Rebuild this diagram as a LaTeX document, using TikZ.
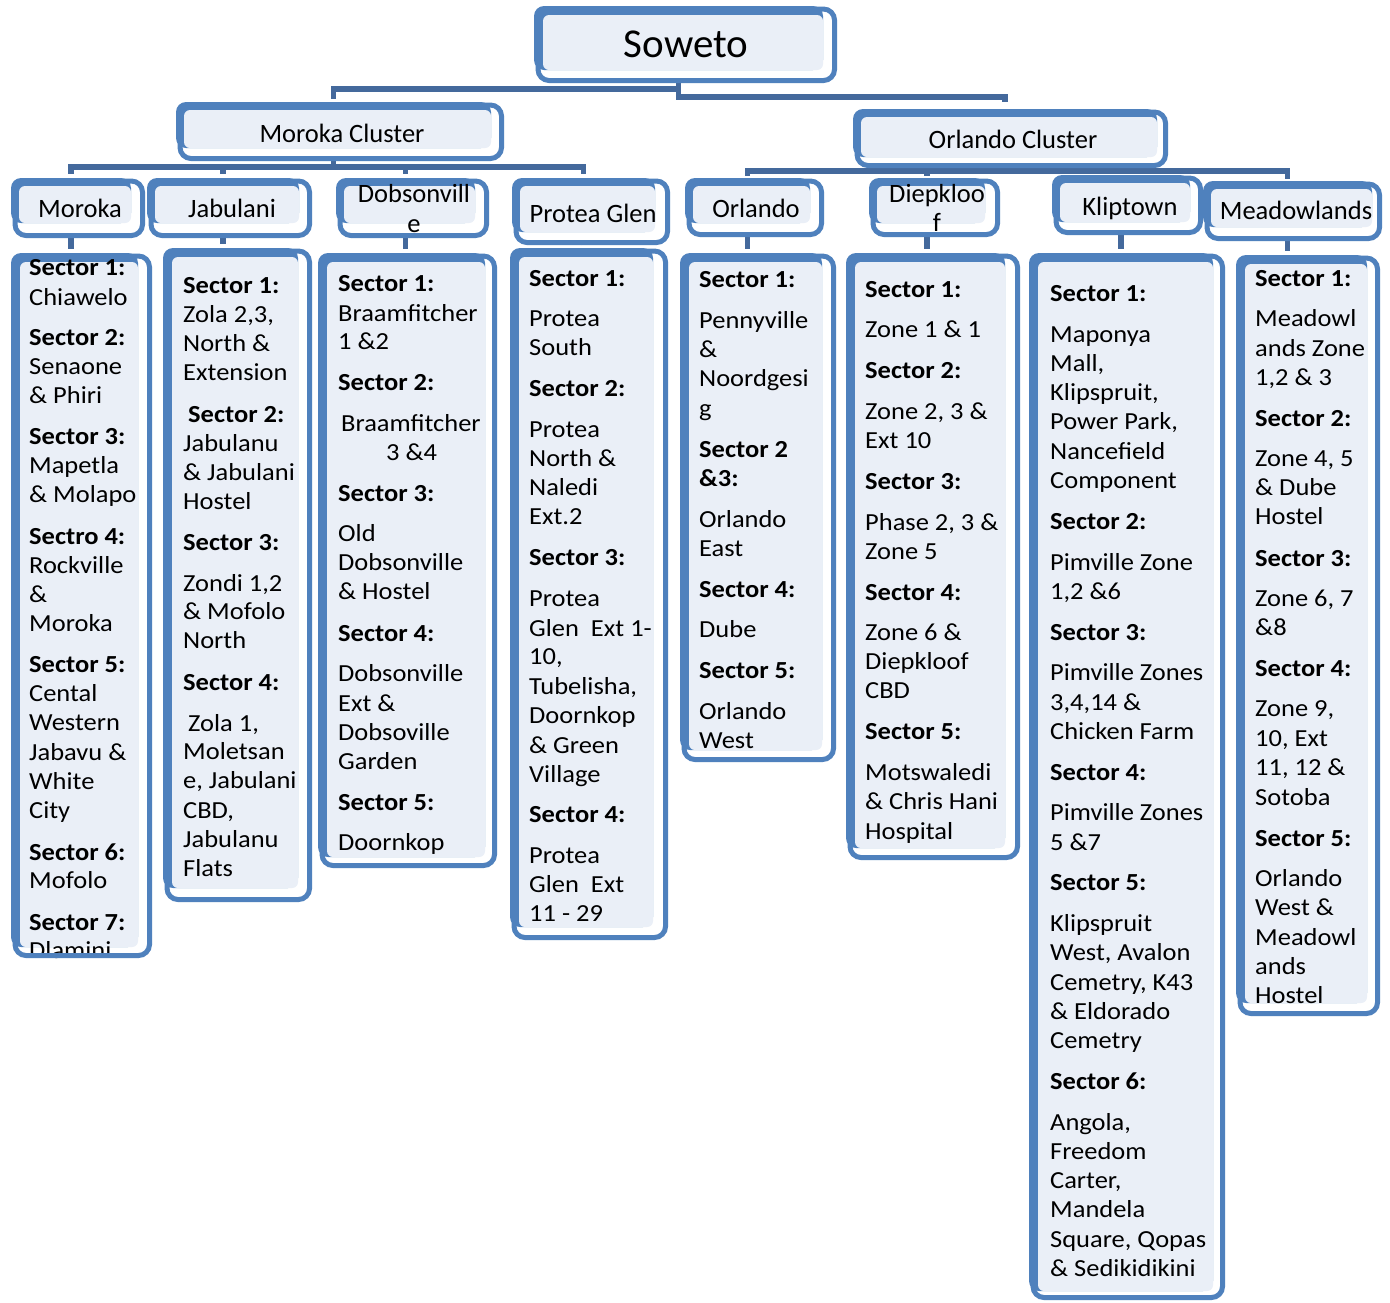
\documentclass[tikz,border=0pt]{standalone}
\usepackage{fontspec}
\setmainfont{Carlito}
\newfontfamily\secfont{Carlito}[FakeStretch=1.08]
\usetikzlibrary{calc,fit,backgrounds}
\definecolor{bframe}{HTML}{4F81BD}
\definecolor{lite}{HTML}{EAEFF7}
\definecolor{connc}{HTML}{44699C}
% #1 name, #2 L, #3 T, #4 fill right, #5 fill bottom, #6 R, #7 B, #8 thickness, #9 contents
\newcommand\ebox[9]{%
  \fill[white,rounded corners=11pt] (#2+4,#3+3) rectangle (#6-2.5,#7-2.5);
  \fill[bframe,rounded corners=10pt] (#2,#3) rectangle (#4,#5);
  \fill[lite,rounded corners=6pt] (#2+#8,#3+#8) rectangle (#4,#5);
  \node[inner sep=0pt,fit={(#2,#3) (#4,#7)}] (#1) {};
  #9
  \draw[bframe,line width=5pt,rounded corners=11pt] (#2+4,#3+3) rectangle (#6-2.5,#7-2.5);
}
\newcommand\tlines[3]{%
  \foreach \ly/\ltext [count=\lidx] in {#3}{\node[stxt] (#1-\lidx) at (#2,\ly) {\ltext};}%
}
\newcommand\hd[1]{\textbf{#1}}
\begin{document}
\begin{tikzpicture}[x=1pt,y=-1pt,
  stxt/.style={anchor=base west,inner sep=0pt,font=\secfont\fontsize{24.5}{29}\selectfont},
  ltxt/.style={anchor=base,inner sep=0pt,font=\fontsize{26.5}{30}\selectfont},
  conn/.style={draw=connc,line width=5.5pt}]
\useasboundingbox (0,0) rectangle (1390,1302);

% ---------- top level ----------
\ebox{sow}{534}{6}{823}{70}{837}{83}{9}{\node[anchor=base,inner sep=0pt,font=\fontsize{41}{46}\selectfont] (sow-t) at (686,57) {Soweto};}
\ebox{mcl}{176}{102}{491}{148}{504}{161}{8}{\node[ltxt] (mcl-t) at (342,142) {Moroka Cluster};}
\ebox{ocl}{853}{109}{1157}{157}{1168}{168}{8}{\node[ltxt] (ocl-t) at (1013,148) {Orlando Cluster};}

% ---------- area labels ----------
\ebox{mor}{11}{178}{131}{223}{145}{238}{8}{\node[ltxt] (mor-t) at (80,217) {Moroka};}
\ebox{jab}{147}{178}{299}{223}{312}{238}{8}{\node[ltxt] (jab-t) at (232,217) {Jabulani};}
\ebox{dob}{336}{178}{475}{223}{489}{238}{8}{\node[ltxt] (dob-t) at (414,202) {Dobsonvill};
  \node[ltxt] (dob-t2) at (414,232) {e};}
\ebox{pro}{512}{178}{655}{232}{670}{245}{8}{\node[ltxt] (pro-t) at (593,222) {Protea Glen};}
\ebox{orl}{685}{178}{810}{223}{824}{237}{8}{\node[ltxt] (orl-t) at (756,217) {Orlando};}
\ebox{diep}{869}{178}{985}{223}{1000}{237}{8}{\node[ltxt] (diep-t) at (937,202) {Diepkloo};
  \node[ltxt] (diep-t2) at (937,231) {f};}
\ebox{klip}{1052}{175}{1190}{222}{1203}{235}{8}{\node[ltxt] (klip-t) at (1130,215) {Kliptown};}
\ebox{mead}{1203}{181}{1372}{227}{1382}{241}{8}{\node[ltxt] (mead-t) at (1296,219) {Meadowlands};}

% ---------- sector boxes ----------
\ebox{morS}{11}{253}{138}{947}{152}{958}{9}{\tlines{morS}{29}{275/{\hd{Sector 1:}},305/{Chiawelo},
  345/{\hd{Sector 2:}},374/{Senaone},403/{\& Phiri},
  444/{\hd{Sector 3:}},473/{Mapetla},502/{\& Molapo},
  544/{\hd{Sectro 4:}},573/{Rockville},602/{\&},631/{Moroka},
  672/{\hd{Sector 5:}},701/{Cental},730/{Western},760/{Jabavu \&},789/{White},818/{City},
  860/{\hd{Sector 6:}},888/{Mofolo},
  930/{\hd{Sector 7:}},958/{Dlamini}}}
\ebox{jabS}{163}{248}{298}{888}{312}{902}{9}{\tlines{jabS}{183}{293/{\hd{Sector 1:}},322/{Zola 2,3,},351/{North \&},380/{Extension},
  422/{\hspace*{5pt}\hd{Sector 2:}},451/{Jabulanu},480/{\& Jabulani},509/{Hostel},
  550/{\hd{Sector 3:}},591/{Zondi 1,2},619/{\& Mofolo},648/{North},
  690/{\hd{Sector 4:}},731/{\hspace*{5pt}Zola 1,},759/{Moletsan},788/{e, Jabulani},818/{CBD,},847/{Jabulanu},876/{Flats}}}
\ebox{dobS}{318}{253}{485}{857}{497}{868}{9}{\tlines{dobS}{338}{291/{\hd{Sector 1:}},321/{Braamfitcher},349/{1 \&2},
  390/{\hd{Sector 2:}},431/{\hspace*{3pt}Braamfitcher},460/{\hspace*{48pt}3 \&4},
  501/{\hd{Sector 3:}},541/{Old},570/{Dobsonville},599/{\& Hostel},
  641/{\hd{Sector 4:}},681/{Dobsonville},711/{Ext \&},740/{Dobsoville},769/{Garden},
  810/{\hd{Sector 5:}},850/{Doornkop}}}
\ebox{proS}{510}{248}{653}{927}{668}{940}{9}{\tlines{proS}{529}{286/{\hd{Sector 1:}},326/{Protea},355/{South},
  396/{\hd{Sector 2:}},437/{Protea},466/{North \&},495/{Naledi},524/{Ext.2},
  565/{\hd{Sector 3:}},606/{Protea},636/{Glen\ \ Ext 1-},664/{10,},694/{Tubelisha,},723/{Doornkop},753/{\& Green},782/{Village},
  822/{\hd{Sector 4:}},863/{Protea},892/{Glen\ \ Ext},921/{11 - 29}}}
\ebox{orlS}{680}{253}{822}{750}{836}{762}{9}{\tlines{orlS}{699}{287/{\hd{Sector 1:}},328/{Pennyville},357/{\&},386/{Noordgesi},416/{g},
  457/{\hd{Sector 2}},486/{\hd{\&3:}},527/{Orlando},556/{East},
  597/{\hd{Sector 4:}},637/{Dube},
  678/{\hd{Sector 5:}},719/{Orlando},748/{West}}}
\ebox{diepS}{846}{253}{1005}{848}{1020}{860}{9}{\tlines{diepS}{865}{297/{\hd{Sector 1:}},337/{Zone 1 \& 1},
  378/{\hd{Sector 2:}},419/{Zone 2, 3 \&},448/{Ext 10},
  489/{\hd{Sector 3:}},530/{Phase 2, 3 \&},559/{Zone 5},
  600/{\hd{Sector 4:}},640/{Zone 6 \&},669/{Diepkloof},698/{CBD},
  739/{\hd{Sector 5:}},780/{Motswaledi},809/{\& Chris Hani},839/{Hospital}}}
\ebox{klipS}{1029}{253}{1213}{1291}{1225}{1300}{9}{\tlines{klipS}{1050}{301/{\hd{Sector 1:}},342/{Maponya},371/{Mall,},400/{Klipspruit,},429/{Power Park,},459/{Nancefield},488/{Component},
  529/{\hd{Sector 2:}},570/{Pimville Zone},599/{1,2 \&6},
  640/{\hd{Sector 3:}},680/{Pimville Zones},710/{3,4,14 \&},739/{Chicken Farm},
  780/{\hd{Sector 4:}},820/{Pimville Zones},850/{5 \&7},
  890/{\hd{Sector 5:}},931/{Klipspruit},960/{West, Avalon},990/{Cemetry, K43},1019/{\& Eldorado},1048/{Cemetry},
  1089/{\hd{Sector 6:}},1130/{Angola,},1159/{Freedom},1188/{Carter,},1217/{Mandela},1247/{Square, Qopas},1276/{\& Sedikidikini}}}
\ebox{meadS}{1236}{255}{1367}{1003}{1380}{1016}{9}{\tlines{meadS}{1255}{286/{\hd{Sector 1:}},326/{Meadowl},356/{ands Zone},385/{1,2 \& 3},
  426/{\hd{Sector 2:}},466/{Zone 4, 5},495/{\& Dube},524/{Hostel},
  566/{\hd{Sector 3:}},606/{Zone 6, 7},635/{\&8},
  676/{\hd{Sector 4:}},716/{Zone 9,},746/{10, Ext},775/{11, 12 \&},805/{Sotoba},
  846/{\hd{Sector 5:}},886/{Orlando},915/{West \&},945/{Meadowl},974/{ands},1003/{Hostel}}}

% ---------- connectors (behind boxes) ----------
\begin{pgfonlayer}{background}
\fill[white] (0,0) rectangle (1390,1302);
\draw[conn] (sow.south) -- ++(0,6) -| ($(mcl.north)+(0,-3)$);
\draw[conn] (sow.south) -- ++(0,14) -| ($(ocl.north)+(0,-7)$);
\foreach \c in {mor,jab,dob,pro}{\draw[conn] (mcl.south) -- ++(0,6) -| ($(\c.north)+(0,-4)$);}
\foreach \c in {orl,diep,klip,mead}{\draw[conn] (ocl.south) -- ++(0,3) -| ($(\c.north)+(0,-2)$);}
\foreach \c in {mor,jab,dob,pro,orl,diep,klip,mead}{\draw[conn] (\c.south) -- ($(\c.south |- \c S.north)+(0,-4)$);}
\end{pgfonlayer}
\end{tikzpicture}
\end{document}
